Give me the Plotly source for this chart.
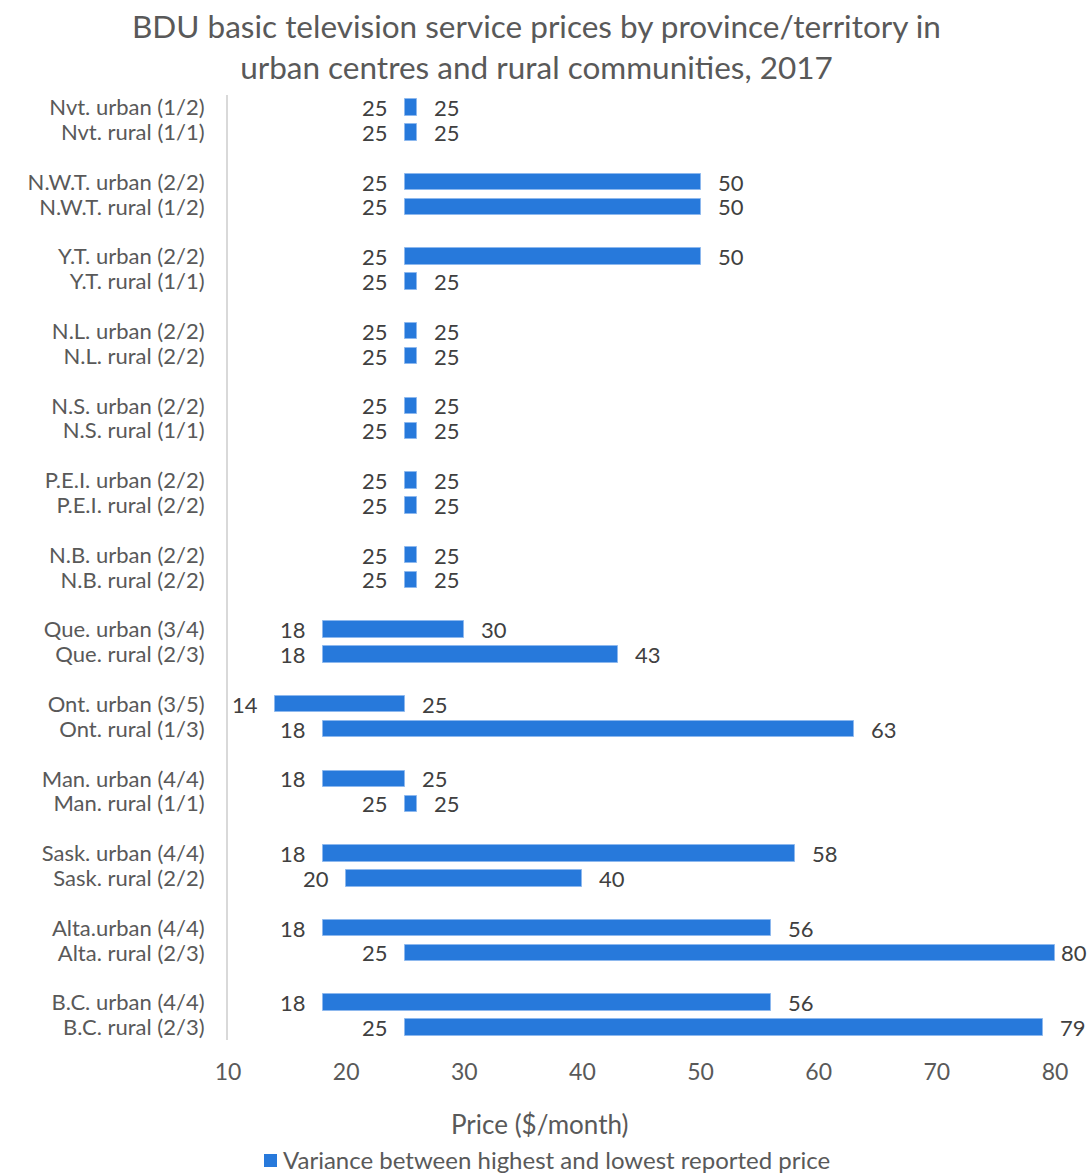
import plotly.graph_objects as go

# Basic television service prices ($/month), lowest and highest reported
regions = ["Nvt.", "N.W.T.", "Y.T.", "N.L.", "N.S.", "P.E.I.", "N.B.",
           "Que.", "Ont.", "Man.", "Sask.", "Alta.", "B.C."]
urban_labels = ["Nvt. urban (1/2)", "N.W.T. urban (2/2)", "Y.T. urban (2/2)",
                "N.L. urban (2/2)", "N.S. urban (2/2)", "P.E.I. urban (2/2)",
                "N.B. urban (2/2)", "Que. urban (3/4)", "Ont. urban (3/5)",
                "Man. urban (4/4)", "Sask. urban (4/4)", "Alta.urban (4/4)",
                "B.C. urban (4/4)"]
rural_labels = ["Nvt. rural (1/1)", "N.W.T. rural (1/2)", "Y.T. rural (1/1)",
                "N.L. rural (2/2)", "N.S. rural (1/1)", "P.E.I. rural (2/2)",
                "N.B. rural (2/2)", "Que. rural (2/3)", "Ont. rural (1/3)",
                "Man. rural (1/1)", "Sask. rural (2/2)", "Alta. rural (2/3)",
                "B.C. rural (2/3)"]
urban_low = [25, 25, 25, 25, 25, 25, 25, 18, 14, 18, 18, 18, 18]
urban_high = [25, 50, 50, 25, 25, 25, 25, 30, 25, 25, 58, 56, 56]
rural_low = [25, 25, 25, 25, 25, 25, 25, 18, 18, 25, 20, 25, 25]
rural_high = [25, 50, 25, 25, 25, 25, 25, 43, 63, 25, 40, 80, 79]

x_ticks = [10, 20, 30, 40, 50, 60, 70, 80]
series_name = "Variance between highest and lowest reported price"

BAR_COLOR = "#2779DB"
TEXT_GRAY = "#595959"
LABEL_GRAY = "#404040"
FONT = "Lato"
MIN_VISIBLE = 1.0  # equal low/high prices still get a small visible block

W, H = 1088, 1174
M_L, M_R, M_T, M_B = 228, 33, 95, 134
X_MIN, X_MAX = 10, 80
PLOT_W = W - M_L - M_R
PLOT_H = H - M_T - M_B

# Each province occupies two rows (urban, rural) followed by a blank spacer row
ys, labels, lows, highs = [], [], [], []
for i in range(len(regions)):
    for j, (lab, lo, hi) in enumerate([(urban_labels[i], urban_low[i], urban_high[i]),
                                         (rural_labels[i], rural_low[i], rural_high[i])]):
        ys.append(i * 3 + j)
        labels.append(lab)
        lows.append(lo)
        highs.append(hi)

lengths = [max(h - l, MIN_VISIBLE) for l, h in zip(lows, highs)]

fig = go.Figure()
fig.add_trace(go.Bar(
    y=ys, x=lengths, base=lows, orientation="h",
    width=0.66,
    marker=dict(color=BAR_COLOR, line=dict(color="#8DB8EE", width=1)),
    name=series_name,
    showlegend=False,
    hoverinfo="skip",
))

LABEL_SIZE = 22
LABEL_W = 27  # approximate width of a two-digit label in pixels


def px_of(x):
    return M_L + (x - X_MIN) / (X_MAX - X_MIN) * PLOT_W


def paper_x(px):
    return (px - M_L) / PLOT_W


def paper_y(py):
    return (H - M_B - py) / PLOT_H


for y, lo, hi, ln in zip(ys, lows, highs, lengths):
    fig.add_annotation(x=lo, y=y, xref="x", yref="y", text=str(lo),
                       showarrow=False, xanchor="right", xshift=-15, yshift=0,
                       font=dict(family=FONT, size=LABEL_SIZE, color=LABEL_GRAY))
    end = lo + ln
    shift = 15
    room = W - 2 - (px_of(end) + shift + LABEL_W)
    if room < 0:
        shift = max(4, shift + room)
    fig.add_annotation(x=end, y=y, xref="x", yref="y", text=str(hi),
                       showarrow=False, xanchor="left", xshift=shift, yshift=0,
                       font=dict(family=FONT, size=LABEL_SIZE, color=LABEL_GRAY))

# Chart title, centred on the full page width
fig.add_annotation(x=paper_x(W / 2 - 8), xref="paper",
                   y=paper_y(47), yref="paper",
                   text="BDU basic television service prices by province/territory in<br>"
                        "urban centres and rural communities, 2017",
                   showarrow=False, xanchor="center", yanchor="middle",
                   font=dict(family=FONT, size=31.5, color=TEXT_GRAY))

# Axis title below the tick labels
fig.add_annotation(x=paper_x(539), xref="paper",
                   y=paper_y(1124), yref="paper",
                   text="Price ($/month)", showarrow=False,
                   xanchor="center", yanchor="middle",
                   font=dict(family=FONT, size=26, color=TEXT_GRAY))

# Legend key: colour swatch followed by the series name
fig.add_shape(type="rect", xref="paper", yref="paper",
              x0=paper_x(264), x1=paper_x(277),
              y0=paper_y(1167), y1=paper_y(1154),
              fillcolor=BAR_COLOR, line=dict(width=0))
fig.add_annotation(x=paper_x(281), xref="paper",
                   y=paper_y(1159), yref="paper",
                   text=series_name, showarrow=False,
                   xanchor="left", yanchor="middle",
                   font=dict(family=FONT, size=24, color=TEXT_GRAY))

fig.update_layout(
    width=W, height=H,
    margin=dict(l=M_L, r=M_R, t=M_T, b=M_B),
    paper_bgcolor="white", plot_bgcolor="white",
    font=dict(family=FONT, size=22, color=TEXT_GRAY),
    showlegend=False,
    xaxis=dict(range=[X_MIN, X_MAX], tickvals=x_ticks,
               ticktext=[str(t) for t in x_ticks],
               showgrid=False, zeroline=False, showline=False,
               ticks="", ticklabelstandoff=16,
               tickfont=dict(family=FONT, size=23, color=TEXT_GRAY)),
    yaxis=dict(range=[37.5, -0.5], tickvals=ys, ticktext=labels,
               showgrid=False, zeroline=False,
               showline=True, linecolor="#D9D9D9", linewidth=2,
               ticks="", ticklabelstandoff=17,
               tickfont=dict(family=FONT, size=22, color=TEXT_GRAY)),
    bargap=0,
)

fig.write_html("out.html")
